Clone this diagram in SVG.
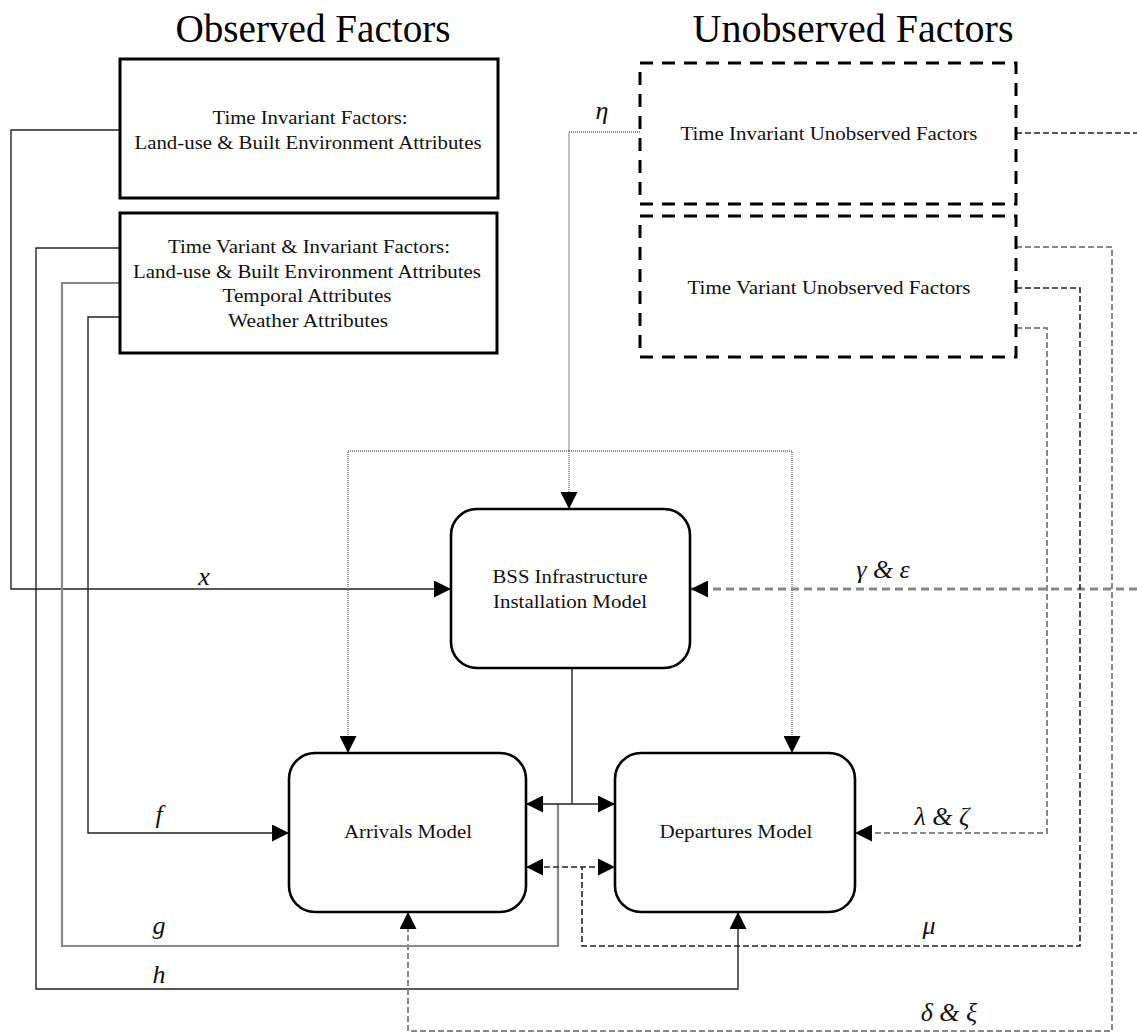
<svg xmlns="http://www.w3.org/2000/svg" width="1137" height="1034" viewBox="0 0 1137 1034">
<style>
  .title{font-family:"Liberation Serif","Times New Roman",serif;font-size:40px;fill:#000;text-anchor:middle}
  .t{font-family:"Liberation Serif","Times New Roman",serif;font-size:19px;fill:#111;text-anchor:middle}
  .lbl{font-family:"Liberation Serif","Times New Roman",serif;font-style:italic;font-size:26px;fill:#111;text-anchor:middle}
  .box{fill:#fff;stroke:#000;stroke-width:3}
  .dbox{fill:#fff;stroke:#000;stroke-width:3;stroke-dasharray:13 9}
  .model{fill:#fff;stroke:#000;stroke-width:2.6}
  .solid{fill:none;stroke:#222;stroke-width:1.4}
  .solidg{fill:none;stroke:#888;stroke-width:2.2}
  .thin{fill:none;stroke:#999;stroke-width:1.2}
  .dot{fill:none;stroke:#666;stroke-width:1.3;stroke-dasharray:1 1}
  .dash{fill:none;stroke:#222;stroke-width:1.6;stroke-dasharray:6 3}
  .dashg{fill:none;stroke:#888;stroke-width:2;stroke-dasharray:6 3}
  .dashG{fill:none;stroke:#888;stroke-width:2.8;stroke-dasharray:8 5}
</style>
<defs>
  <marker id="ah" viewBox="0 0 17 17" refX="17" refY="8.5" markerWidth="17" markerHeight="17" markerUnits="userSpaceOnUse" orient="auto-start-reverse">
    <path d="M0,0 L17,8.5 L0,17 z" fill="#000"/>
  </marker>
</defs>

<text class="title" x="313" y="42" textLength="275" lengthAdjust="spacingAndGlyphs">Observed Factors</text>
<text class="title" x="853" y="42" textLength="321" lengthAdjust="spacingAndGlyphs">Unobserved Factors</text>

<g id="connectors">
  <!-- observed -->
  <path class="solid" d="M120,130 H11 V589 H451" marker-end="url(#ah)"/>
  <path class="solid" d="M120,248 H36 V989 H738 V912" marker-end="url(#ah)"/>
  <path class="solidg" d="M120,283 H62 V946 H558 V804"/>
  <path class="solid" d="M120,317 H88 V833 H289" marker-end="url(#ah)"/>
  <path class="solid" d="M572,668 V804"/>
  <path class="solid" d="M526,804 H615" marker-start="url(#ah)" marker-end="url(#ah)"/>
  <!-- eta -->
  <path class="dot" d="M640,132 H569"/>
  <path class="thin" d="M569,132 V451"/>
  <path class="dot" d="M569,451 V509" marker-end="url(#ah)"/>
  <path class="dot" d="M569,451 H348 V753" marker-end="url(#ah)"/>
  <path class="dot" d="M569,451 H792 V753" marker-end="url(#ah)"/>
  <!-- unobserved -->
  <path class="dash" d="M1016,133 H1137"/>
  <path class="dashG" d="M1137,589 H691" marker-end="url(#ah)"/>
  <path class="dashg" d="M1016,247 H1112 V1031 H408 V912" marker-end="url(#ah)"/>
  <path class="dash" d="M1016,288 H1080 V946 H582 V867"/>
  <path class="dash" d="M526,867 H615" marker-start="url(#ah)" marker-end="url(#ah)"/>
  <path class="dashg" d="M1016,328 H1047 V833 H855" marker-end="url(#ah)"/>
</g>

<g id="labels">
  <text class="lbl" x="204" y="585">x</text>
  <text class="lbl" x="602" y="119">η</text>
  <text class="lbl" x="883" y="578">γ &amp; ε</text>
  <text class="lbl" x="159" y="823">f</text>
  <text class="lbl" x="159" y="934">g</text>
  <text class="lbl" x="159" y="983">h</text>
  <text class="lbl" x="942" y="825">λ &amp; ζ</text>
  <text class="lbl" x="929" y="934">μ</text>
  <text class="lbl" x="949" y="1021">δ &amp; ξ</text>
</g>

<g id="time-invariant-factors">
  <rect class="box" x="120" y="59" width="378" height="139"/>
  <text class="t" x="310" y="124" textLength="195" lengthAdjust="spacingAndGlyphs">Time Invariant Factors:</text>
  <text class="t" x="308" y="149" textLength="347" lengthAdjust="spacingAndGlyphs">Land-use &amp; Built Environment Attributes</text>
</g>

<g id="time-variant-invariant-factors">
  <rect class="box" x="120" y="213" width="377" height="140"/>
  <text class="t" x="309" y="253" textLength="282" lengthAdjust="spacingAndGlyphs">Time Variant &amp; Invariant Factors:</text>
  <text class="t" x="307" y="278" textLength="348" lengthAdjust="spacingAndGlyphs">Land-use &amp; Built Environment Attributes</text>
  <text class="t" x="307" y="302" textLength="169" lengthAdjust="spacingAndGlyphs">Temporal Attributes</text>
  <text class="t" x="308" y="327" textLength="160" lengthAdjust="spacingAndGlyphs">Weather Attributes</text>
</g>

<g id="time-invariant-unobserved">
  <rect class="dbox" x="640" y="63" width="376" height="141"/>
  <text class="t" x="829" y="140" textLength="297" lengthAdjust="spacingAndGlyphs">Time Invariant Unobserved Factors</text>
</g>

<g id="time-variant-unobserved">
  <rect class="dbox" x="640" y="216" width="376" height="141"/>
  <text class="t" x="829" y="294" textLength="283" lengthAdjust="spacingAndGlyphs">Time Variant Unobserved Factors</text>
</g>

<g id="bss-model">
  <rect class="model" x="451" y="509" width="239" height="159" rx="26" ry="26"/>
  <text class="t" x="570" y="583" textLength="155" lengthAdjust="spacingAndGlyphs">BSS Infrastructure</text>
  <text class="t" x="570" y="608" textLength="154" lengthAdjust="spacingAndGlyphs">Installation Model</text>
</g>

<g id="arrivals-model">
  <rect class="model" x="289" y="753" width="237" height="159" rx="26" ry="26"/>
  <text class="t" x="408" y="838" textLength="128" lengthAdjust="spacingAndGlyphs">Arrivals Model</text>
</g>

<g id="departures-model">
  <rect class="model" x="615" y="753" width="240" height="159" rx="26" ry="26"/>
  <text class="t" x="736" y="838" textLength="153" lengthAdjust="spacingAndGlyphs">Departures Model</text>
</g>
</svg>
